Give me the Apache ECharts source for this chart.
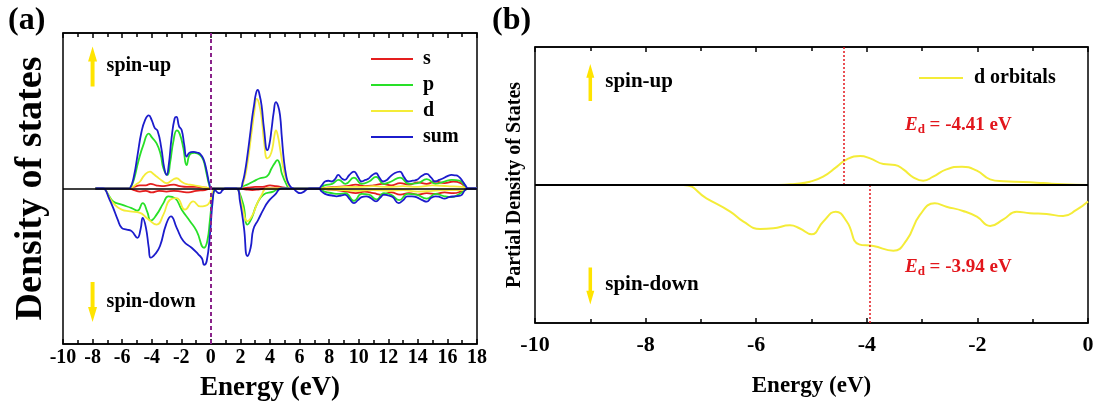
<!DOCTYPE html>
<html>
<head>
<meta charset="utf-8">
<script src="https://cdn.jsdelivr.net/npm/echarts@6/dist/echarts.min.js"></script>
<style>
html,body{margin:0;padding:0;background:#fff;}
#c{width:1097px;height:407px;}
</style>
</head>
<body>
<div id="c"></div>
<script>
// ---------- Panel (a): total / projected DOS (energy eV, arbitrary units) ----------
const ticksA = [-10, 18, 2];
const sumUp = [[-7.8,0],[-5.6,0],[-5.45,0.05],[-5.2,0.8],[-4.95,2.2],[-4.7,3.6],[-4.45,4.4],[-4.2,4.7],[-4.0,4.4],[-3.8,3.9],[-3.6,3.7],[-3.35,2.6],[-3.15,1.3],[-2.99,0.87],[-2.85,1.5],[-2.65,3.3],[-2.45,4.5],[-2.33,4.6],[-2.15,4.0],[-1.97,3.75],[-1.8,2.8],[-1.64,2.05],[-1.45,2.3],[-1.2,2.35],[-0.9,2.3],[-0.7,2.2],[-0.5,1.9],[-0.3,1.2],[-0.1,0.3],[0.05,0],
  [1.97,0],[2.15,0.4],[2.31,1.09],[2.47,2.1],[2.65,3.43],[2.8,4.6],[2.92,5.34],[3.05,6.1],[3.17,6.34],[3.3,6.0],[3.43,5.34],[3.6,3.8],[3.82,2.47],[3.95,2.8],[4.11,3.85],[4.25,4.9],[4.4,5.55],[4.55,5.3],[4.68,4.7],[4.8,3.3],[4.95,1.72],[5.1,0.8],[5.24,0.34],[5.45,0.05],[5.58,0],[5.8,-0.2],[6.05,-0.3],[6.3,-0.2],[6.5,-0.05],[6.7,0],
  [7.27,0],[7.5,0.2],[7.72,0.45],[7.95,0.5],[8.17,0.45],[8.4,0.6],[8.62,0.87],[8.85,0.65],[9.07,0.55],[9.35,0.85],[9.68,1.09],[9.95,0.75],[10.2,0.45],[10.45,0.55],[10.65,0.62],[10.9,0.85],[11.17,0.98],[11.4,0.7],[11.66,0.45],[11.9,0.55],[12.11,0.75],[12.45,1.0],[12.79,1.09],[13.05,0.75],[13.35,0.45],[13.65,0.5],[13.92,0.55],[14.25,0.8],[14.59,0.94],[14.9,0.7],[15.16,0.45],[15.45,0.55],[15.72,0.66],[16.0,0.8],[16.28,0.87],[16.5,0.85],[16.74,0.78],[17.0,0.5],[17.19,0.23],[17.42,0],[18,0]];
const sumDown = [[-7.8,0],[-7.3,0],[-7.16,-0.05],[-6.9,-0.6],[-6.6,-1.26],[-6.3,-2.0],[-6.03,-2.53],[-5.69,-2.64],[-5.36,-2.74],[-4.97,-3.17],[-4.75,-2.6],[-4.61,-1.89],[-4.39,-2.53],[-4.2,-3.8],[-4.07,-4.45],[-3.78,-4.23],[-3.44,-3.7],[-3.03,-2.32],[-2.7,-1.79],[-2.31,-2.53],[-1.86,-3.38],[-1.3,-3.81],[-0.85,-4.23],[-0.6,-4.5],[-0.46,-4.91],[-0.28,-4.66],[-0.06,-2.96],[0.12,-0.83],[0.28,-0.09],[0.45,-0.25],[0.6,-0.3],[0.8,-0.1],[1.0,0],
  [1.74,0],[1.97,-0.83],[2.24,-2.53],[2.47,-4.34],[2.69,-3.81],[2.87,-2.64],[3.21,-2.0],[3.55,-1.36],[3.89,-0.83],[4.34,-0.4],[4.79,0],
  [7.27,0],[7.5,-0.2],[7.85,-0.4],[8.2,-0.45],[8.5,-0.5],[8.8,-0.45],[9.07,-0.4],[9.4,-0.7],[9.68,-0.94],[9.95,-0.75],[10.2,-0.55],[10.5,-0.5],[10.8,-0.6],[11.17,-0.83],[11.45,-0.6],[11.7,-0.4],[12.0,-0.45],[12.3,-0.55],[12.7,-0.94],[13.0,-0.75],[13.3,-0.5],[13.6,-0.5],[13.9,-0.55],[14.3,-0.75],[14.6,-0.85],[14.9,-0.6],[15.2,-0.5],[15.5,-0.55],[15.8,-0.65],[16.1,-0.55],[16.5,-0.5],[16.9,-0.45],[17.19,-0.1],[17.42,0],[18,0]];
const pUp = [[-7.8,0],[-5.6,0],[-5.45,0.05],[-5.2,0.6],[-4.91,1.72],[-4.57,2.79],[-4.2,3.53],[-4.0,3.3],[-3.67,2.9],[-3.4,2.2],[-3.21,1.3],[-2.94,0.87],[-2.75,1.7],[-2.54,3.0],[-2.3,3.74],[-2.1,3.5],[-1.86,2.6],[-1.64,1.51],[-1.41,2.2],[-1.1,2.3],[-0.73,2.15],[-0.5,1.8],[-0.3,1.0],[-0.1,0.2],[0.05,0],
  [1.97,0],[2.2,0.15],[2.42,0.23],[2.87,0.45],[3.32,0.66],[3.78,0.77],[4.11,1.3],[4.3,1.6],[4.5,1.83],[4.68,1.5],[4.79,1.0],[5.13,0.23],[5.35,0],
  [7.27,0],[7.7,0.2],[8.2,0.3],[8.65,0.55],[9.1,0.3],[9.68,0.7],[10.2,0.3],[10.7,0.45],[11.17,0.75],[11.7,0.3],[12.2,0.45],[12.8,0.7],[13.4,0.3],[14.0,0.35],[14.6,0.6],[15.2,0.3],[15.8,0.45],[16.3,0.55],[16.8,0.5],[17.2,0.15],[17.42,0],[18,0]];
const pDown = [[-7.8,0],[-7.3,0],[-7.16,-0.05],[-6.9,-0.45],[-6.6,-0.83],[-6.03,-1.04],[-5.36,-1.26],[-4.97,-1.43],[-4.61,-0.94],[-4.3,-1.5],[-4.07,-2.06],[-3.67,-1.68],[-3.21,-0.94],[-2.88,-0.51],[-2.43,-0.62],[-1.97,-1.36],[-1.41,-2.1],[-0.96,-2.74],[-0.46,-3.81],[-0.24,-3.38],[-0.06,-2.0],[0.12,-0.55],[0.3,-0.05],[0.45,0],
  [1.74,0],[1.86,-0.1],[2.2,-1.04],[2.47,-2.32],[2.76,-1.9],[3.1,-1.04],[3.55,-0.4],[4.22,-0.2],[4.68,0],
  [7.27,0],[7.7,-0.2],[8.2,-0.3],[8.6,-0.35],[9.1,-0.3],[9.68,-0.8],[10.2,-0.35],[10.7,-0.4],[11.2,-0.7],[11.7,-0.3],[12.2,-0.4],[12.75,-0.75],[13.3,-0.35],[13.9,-0.4],[14.6,-0.65],[15.2,-0.35],[15.8,-0.5],[16.3,-0.55],[16.8,-0.35],[17.2,-0.1],[17.42,0],[18,0]];
const dUp = [[-7.8,0],[-5.6,0],[-5.45,0.02],[-5.0,0.3],[-4.79,0.45],[-4.5,0.85],[-4.12,1.09],[-3.9,0.95],[-3.67,0.77],[-3.3,0.5],[-2.99,0.34],[-2.6,0.55],[-2.31,0.66],[-2.0,0.45],[-1.64,0.28],[-1.2,0.22],[-0.73,0.13],[-0.3,0.05],[0,0],
  [1.97,0],[2.2,0.4],[2.42,1.3],[2.76,3.64],[2.95,5.0],[3.1,5.77],[3.25,5.5],[3.44,4.49],[3.6,3.0],[3.82,1.94],[4.0,2.1],[4.16,2.57],[4.3,3.4],[4.4,3.74],[4.55,3.3],[4.68,2.57],[4.95,1.09],[5.24,0.23],[5.46,0],
  [7.27,0],[8.0,0.05],[9.0,0.1],[10.0,0.1],[11.0,0.15],[12.0,0.1],[13.0,0.15],[14.0,0.1],[15.0,0.2],[16.0,0.15],[17.0,0.1],[17.42,0],[18,0]];
const dDown = [[-7.8,0],[-7.3,0],[-7.16,-0.05],[-6.9,-0.5],[-6.6,-0.94],[-6.03,-1.36],[-5.47,-1.47],[-4.79,-1.57],[-4.34,-1.89],[-3.67,-2.32],[-3.21,-1.68],[-2.76,-0.72],[-2.31,-0.62],[-1.75,-1.36],[-1.19,-0.83],[-0.73,-1.15],[-0.17,-1.0],[0.12,-0.2],[0.3,0],
  [1.74,0],[1.86,-0.1],[2.15,-1.26],[2.47,-2.1],[2.83,-1.68],[3.1,-1.04],[3.44,-0.4],[3.78,0],
  [7.27,0],[8.0,-0.05],[9.0,-0.1],[10.0,-0.15],[11.0,-0.1],[12.0,-0.15],[13.0,-0.1],[14.0,-0.2],[15.0,-0.15],[16.0,-0.1],[17.0,-0.1],[17.42,0],[18,0]];
const sUp = [[-7.8,0],[-5.6,0],[-5.2,0.1],[-4.8,0.2],[-4.4,0.2],[-4.07,0.3],[-3.7,0.2],[-3.3,0.15],[-2.9,0.2],[-2.5,0.25],[-2.1,0.15],[-1.6,0.1],[-1.0,0.1],[-0.3,0.05],[0,0],
  [1.97,0],[2.5,0.05],[3.0,0.1],[3.5,0.1],[4.0,0.2],[4.4,0.15],[5.0,0.05],[5.4,0],
  [7.27,0],[7.8,0.05],[8.5,0.1],[9.2,0.15],[9.8,0.25],[10.4,0.15],[11.0,0.2],[11.6,0.3],[12.2,0.2],[12.8,0.35],[13.4,0.25],[14.0,0.4],[14.6,0.3],[15.2,0.45],[15.8,0.35],[16.4,0.45],[16.9,0.35],[17.2,0.1],[17.42,0],[18,0]];
const sDown = [[-7.8,0],[-5.6,0],[-5.2,-0.1],[-4.8,-0.2],[-4.4,-0.15],[-4.0,-0.25],[-3.5,-0.15],[-3.0,-0.2],[-2.5,-0.15],[-2.0,-0.2],[-1.5,-0.25],[-1.0,-0.15],[-0.4,-0.1],[0,0],
  [1.8,0],[2.3,-0.05],[2.8,-0.1],[3.3,-0.05],[3.8,0],
  [7.27,0],[7.8,-0.05],[8.5,-0.1],[9.2,-0.2],[9.8,-0.3],[10.4,-0.2],[11.0,-0.3],[11.6,-0.4],[12.2,-0.25],[12.8,-0.4],[13.4,-0.3],[14.0,-0.4],[14.6,-0.3],[15.2,-0.35],[15.8,-0.25],[16.4,-0.3],[16.9,-0.2],[17.2,-0.05],[17.42,0],[18,0]];
const fermiA = 0;

// ---------- Panel (b): d-orbital PDOS ----------
const ticksB = [-10, 0, 2];
const dOrbUp = [[-10,0],[-5.6,0],[-5.3,0.08],[-5.03,0.24],[-4.79,0.6],[-4.54,1.33],[-4.36,1.86],[-4.12,2.1],[-3.94,1.93],[-3.7,1.52],[-3.49,1.45],[-3.34,1.13],[-3.16,0.56],[-2.98,0.31],[-2.8,0.6],[-2.56,1.13],[-2.28,1.33],[-2.01,1.04],[-1.77,0.41],[-1.53,0.27],[-1.17,0.22],[-0.81,0.14],[-0.45,0.05],[0,0]];
const dOrbDown = [[-10,0],[-7.32,0],[-6.9,-0.97],[-6.47,-1.93],[-6.23,-2.66],[-5.93,-3.19],[-5.69,-3.14],[-5.39,-2.92],[-5.21,-3.15],[-5.0,-3.57],[-4.79,-2.66],[-4.56,-1.93],[-4.36,-2.66],[-4.14,-4.3],[-3.88,-4.42],[-3.52,-4.76],[-3.28,-3.99],[-3.04,-2.17],[-2.77,-1.33],[-2.56,-1.57],[-2.26,-1.88],[-2.01,-2.3],[-1.77,-2.97],[-1.53,-2.49],[-1.29,-1.93],[-1.05,-2.05],[-0.75,-2.1],[-0.45,-2.25],[-0.21,-1.81],[0,-1.2]];
const edUp = -4.41;
const edDown = -3.94;

const FONT = 'Liberation Serif';
const BOLD = {fontFamily: FONT, fontWeight: 'bold', color: '#000'};
const RED = '#e2161c';
const YEL = '#f4ec38';
const ARROW = '#ffe400';
const C = {s: '#e41e1e', p: '#28e028', d: YEL, sum: '#1c1ccc'};
const upArrow = 'path://M5,0 L10,15 L7.2,15 L7.2,40 L2.8,40 L2.8,15 L0,15 Z';
const downArrow = 'path://M2.8,0 L7.2,0 L7.2,25 L10,25 L5,40 L0,25 L2.8,25 Z';

function xAxisDef(grid, t, top, labelOpt, nameOpt) {
  const ax = {
    type: 'value', gridIndex: grid, min: t[0], max: t[1], interval: t[2],
    position: top ? 'top' : 'bottom',
    axisLine: {show: true, onZero: false, lineStyle: {color: '#000', width: 1.5}},
    axisTick: {show: true, inside: true, length: 5, lineStyle: {color: '#000', width: 1.5}},
    minorTick: {show: true, splitNumber: 2, length: 4, lineStyle: {color: '#000', width: 1.5}},
    splitLine: {show: false},
    axisLabel: top ? {show: false} : Object.assign({show: true}, BOLD, labelOpt)
  };
  if (!top && nameOpt) Object.assign(ax, nameOpt);
  return ax;
}
function yAxisDef(grid, name, size, gap) {
  return {type: 'value', gridIndex: grid, min: -10, max: 10,
    axisLine: {show: false}, axisTick: {show: false}, axisLabel: {show: false}, splitLine: {show: false},
    name: name, nameLocation: 'middle', nameGap: gap,
    nameTextStyle: Object.assign({fontSize: size}, BOLD)};
}
function line(name, data, color, xi, yi, width, extra) {
  return Object.assign({type: 'line', name, data, xAxisIndex: xi, yAxisIndex: yi,
    showSymbol: false, symbol: 'none', smooth: 0.5,
    lineStyle: {color, width}, itemStyle: {color}, animation: false, silent: true}, extra || {});
}
function textPt(coord, txt, size) {
  return {coord, symbol: 'rect', symbolSize: 0,
    label: {show: true, position: 'right', distance: 0, formatter: txt, fontSize: size, fontFamily: FONT, fontWeight: 'bold', color: '#000'}};
}
function arrowPt(coord, path, w, h) {
  return {coord, symbol: path, symbolSize: [w, h], itemStyle: {color: ARROW}, label: {show: false}};
}
function edPt(coord, val) {
  return {coord, symbol: 'rect', symbolSize: 0,
    label: {show: true, position: 'right', distance: 0,
      formatter: '{e|E}{s|d}{t| = ' + val.toFixed(2) + ' eV}',
      rich: {
        e: {fontFamily: FONT, fontWeight: 'bold', fontStyle: 'italic', fontSize: 19, color: RED, lineHeight: 22, verticalAlign: 'middle'},
        s: {fontFamily: FONT, fontWeight: 'bold', fontSize: 13, color: RED, lineHeight: 12, verticalAlign: 'bottom'},
        t: {fontFamily: FONT, fontWeight: 'bold', fontSize: 19, color: RED, lineHeight: 22, verticalAlign: 'middle'}
      }}};
}

const chart = echarts.init(document.getElementById('c'), null, {renderer: 'canvas'});
const option = {
  backgroundColor: '#fff',
  animation: false,
  grid: [
    {left: 63, top: 33, width: 414, height: 312, show: true, borderColor: '#000', borderWidth: 1.5, backgroundColor: 'transparent'},
    {left: 535, top: 47, width: 553, height: 276, show: true, borderColor: '#000', borderWidth: 1.5, backgroundColor: 'transparent'}
  ],
  xAxis: [
    xAxisDef(0, ticksA, false, {fontSize: 20, margin: 4}, {name: 'Energy (eV)', nameLocation: 'middle', nameGap: 31, nameTextStyle: Object.assign({fontSize: 27}, BOLD)}),
    xAxisDef(0, ticksA, true),
    xAxisDef(1, ticksB, false, {fontSize: 22, margin: 11}, {name: 'Energy (eV)', nameLocation: 'middle', nameGap: 52, nameTextStyle: Object.assign({fontSize: 23}, BOLD)}),
    xAxisDef(1, ticksB, true)
  ],
  yAxis: [
    yAxisDef(0, 'Density of states', 38, 13),
    yAxisDef(1, 'Partial Density of States', 20, 10)
  ],
  legend: [
    {data: ['s', 'p', 'd', 'sum'], orient: 'vertical', left: 366, top: 44, icon: 'rect', itemWidth: 42, itemHeight: 2, itemGap: 6,
      textStyle: Object.assign({fontSize: 20, padding: [0, 0, 0, 5]}, BOLD), selectedMode: false},
    {data: ['d orbitals'], orient: 'vertical', left: 914, top: 63, icon: 'rect', itemWidth: 44, itemHeight: 2,
      textStyle: Object.assign({fontSize: 20, padding: [0, 0, 0, 6]}, BOLD), selectedMode: false}
  ],
  graphic: [
    {type: 'text', left: 8, top: 5, style: {text: '(a)', fontFamily: FONT, fontWeight: 'bold', fontSize: 32, fill: '#000'}},
    {type: 'text', left: 492, top: 5, style: {text: '(b)', fontFamily: FONT, fontWeight: 'bold', fontSize: 32, fill: '#000'}}
  ],
  series: [
    line('s', sUp, C.s, 0, 0, 1.8),
    line('s', sDown, C.s, 0, 0, 1.8),
    line('p', pUp, C.p, 0, 0, 1.8),
    line('p', pDown, C.p, 0, 0, 1.8),
    line('d', dUp, C.d, 0, 0, 1.8),
    line('d', dDown, C.d, 0, 0, 1.8),
    line('sum', sumUp, C.sum, 0, 0, 1.8),
    line('sum', sumDown, C.sum, 0, 0, 1.8, {
      markLine: {silent: true, symbol: 'none', label: {show: false}, animation: false,
        data: [
          {yAxis: 0, lineStyle: {color: '#000', width: 1.5, type: 'solid'}},
          {xAxis: fermiA, lineStyle: {color: '#8a238a', width: 2, type: [4, 3]}}
        ]},
      markPoint: {silent: true, animation: false, data: [
        arrowPt([-8, 7.85], upArrow, 9, 40),
        arrowPt([-8, -7.3], downArrow, 9, 40),
        textPt([-7.05, 7.9], 'spin-up', 20),
        textPt([-7.05, -7.3], 'spin-down', 20)
      ]}
    }),
    line('d orbitals', dOrbUp, YEL, 2, 1, 2),
    line('d orbitals', dOrbDown, YEL, 2, 1, 2, {
      markLine: {silent: true, symbol: 'none', label: {show: false}, animation: false,
        data: [
          [{coord: [edUp, 0]}, {coord: [edUp, 10], lineStyle: {color: RED, width: 1.5, type: [2, 2]}}],
          [{coord: [edDown, -10]}, {coord: [edDown, 0], lineStyle: {color: RED, width: 1.5, type: [2, 2]}}],
          {yAxis: 0, lineStyle: {color: '#000', width: 2, type: 'solid'}}
        ]},
      markPoint: {silent: true, animation: false, data: [
        arrowPt([-9, 7.43], upArrow, 8, 37),
        arrowPt([-9, -7.32], downArrow, 8, 37),
        textPt([-8.73, 7.46], 'spin-up', 21),
        textPt([-8.73, -7.25], 'spin-down', 21),
        edPt([-3.31, 4.35], edUp),
        edPt([-3.31, -5.94], edDown)
      ]}
    })
  ]
};
chart.setOption(option);
</script>
</body>
</html>
